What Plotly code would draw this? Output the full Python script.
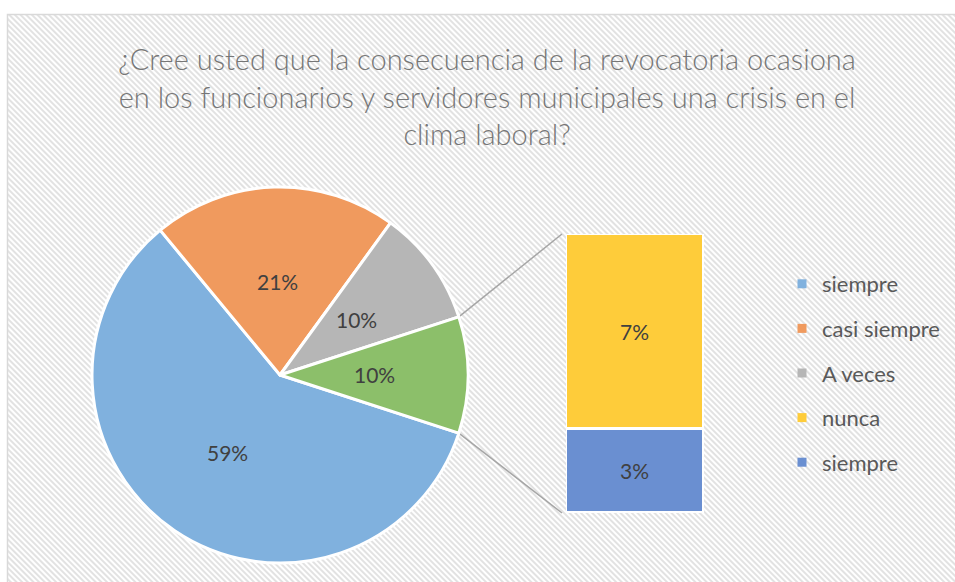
import base64
import math
import plotly.graph_objects as go

# ---------------- data ----------------
pie_labels = ["siempre", "casi siempre", "A veces", "Otro"]
pie_values = [59, 21, 10, 10]
bar_labels = ["siempre", "nunca"]          # bottom -> top of the stacked bar
bar_values = [3, 7]
legend_labels = ["siempre", "casi siempre", "A veces", "nunca", "siempre"]
title_lines = [
    "¿Cree usted que la consecuencia de la revocatoria ocasiona",
    "en los funcionarios y servidores municipales una crisis en el",
    "clima laboral?",
]

# ---------------- style ----------------
W, H = 955, 582
pie_colors = ["#80b1de", "#f09a5e", "#b6b6b6", "#8cbf6a"]
bar_colors = ["#6a8fd1", "#fecc3a"]
legend_colors = ["#80b1de", "#f09a5e", "#b6b6b6", "#fecc3a", "#6a8fd1"]
FONT = "Lato"
LABEL_FONT = dict(family=FONT, size=21, color="#404040")

# layout geometry (pixels)
cx, cy, R = 280, 375, 188
bar_x0, bar_x1, bar_y0, bar_y1 = 566, 704, 513, 234   # left, right, bottom, top

fig = go.Figure()

total = sum(pie_values)
other_frac = pie_values[-1] / total
rotation = 90 + other_frac * 360 / 2

fig.add_trace(go.Pie(
    labels=pie_labels, values=pie_values, sort=False, direction="clockwise",
    rotation=rotation,
    domain=dict(x=[(cx - R) / W, (cx + R) / W], y=[1 - (cy + R) / H, 1 - (cy - R) / H]),
    marker=dict(colors=pie_colors, line=dict(color="white", width=3)),
    textinfo="none",
    showlegend=False, hoverinfo="label+percent",
))

# pie percentage labels at half radius on each slice's mid-angle
annotations = []
start = rotation  # clockwise degrees from 12 o'clock
for v in pie_values:
    span = v / total * 360
    mid = math.radians(start + span / 2)
    lx = cx + 0.5 * R * math.sin(mid)
    ly = cy - 0.5 * R * math.cos(mid)
    annotations.append(dict(text=f"{round(v / total * 100)}%", x=lx / W, y=1 - ly / H,
                            xref="paper", yref="paper", showarrow=False,
                            xanchor="center", yanchor="middle",
                            font=LABEL_FONT))
    start += span

for lab, val, col in zip(bar_labels, bar_values, bar_colors):
    fig.add_trace(go.Bar(
        x=["Otro"], y=[val], name=lab, width=1,
        marker=dict(color=col, line=dict(color="white", width=3)),
        text=[f"{val}%"], textposition="inside", insidetextanchor="middle",
        textfont=LABEL_FONT, textangle=0,
        showlegend=False, hoverinfo="name+y",
    ))

for i, (lab, col) in enumerate(zip(legend_labels, legend_colors)):
    fig.add_trace(go.Scatter(
        x=[None], y=[None], mode="markers", name=lab,
        marker=dict(symbol="square", size=9, color=col),
        legendgroup=f"g{i}", showlegend=True, hoverinfo="skip",
    ))

# connector lines from the "Otro" slice edge to the bar corners
half = math.radians(other_frac * 360 / 2)
px0 = cx + R * math.cos(half)
shapes = []
for sign, by in ((1, bar_y1), (-1, bar_y0)):
    py = cy - sign * R * math.sin(half)
    shapes.append(dict(type="line", xref="paper", yref="paper",
                       x0=px0 / W, y0=1 - py / H, x1=(bar_x0 - 4) / W, y1=1 - by / H,
                       line=dict(color="#a6a6a6", width=1.5), layer="below"))
# chart border
shapes.append(dict(type="rect", xref="paper", yref="paper",
                   x0=7.5 / W, y0=-0.02, x1=1.02, y1=1 - 14.5 / H,
                   line=dict(color="#d9d9d9", width=1.5), fillcolor="rgba(0,0,0,0)",
                   layer="below"))

# hatched background
bw, bh = W - 8, H - 15
svg = (f'<svg xmlns="http://www.w3.org/2000/svg" width="{bw}" height="{bh}">'
       '<defs><pattern id="p" patternUnits="userSpaceOnUse" width="4" height="4" '
       'patternTransform="rotate(-45)"><rect width="4" height="4" fill="#ffffff"/>'
       '<rect width="2" height="4" fill="#e2e2e2"/></pattern></defs>'
       '<rect width="100%" height="100%" fill="url(#p)"/></svg>')
src = "data:image/svg+xml;base64," + base64.b64encode(svg.encode()).decode()

fig.update_layout(
    width=W, height=H,
    margin=dict(l=0, r=0, t=0, b=0),
    paper_bgcolor="white", plot_bgcolor="rgba(0,0,0,0)",
    barmode="stack", bargap=0,
    title=dict(text="<br>".join(title_lines), x=0.51, xanchor="center",
               y=1 - 70 / H, yanchor="top", yref="container",
               font=dict(family=FONT, size=29, color="#767676", weight=300)),
    xaxis=dict(domain=[bar_x0 / W, bar_x1 / W], range=[-0.5, 0.5], visible=False,
               fixedrange=True),
    yaxis=dict(domain=[1 - bar_y0 / H, 1 - bar_y1 / H], range=[0, sum(bar_values)],
               visible=False, fixedrange=True),
    legend=dict(x=782 / W, y=1 - 263 / H, xanchor="left", yanchor="top",
                font=dict(family=FONT, size=22, color="#595959"),
                bgcolor="rgba(0,0,0,0)", tracegroupgap=13, traceorder="grouped"),
    images=[dict(source=src, xref="paper", yref="paper", x=8 / W, y=1 - 15 / H,
                 sizex=bw / W, sizey=bh / H, xanchor="left", yanchor="top",
                 sizing="stretch", layer="below")],
    shapes=shapes,
    annotations=annotations,
)

fig.write_html("out.html", config={"displayModeBar": False},
               post_script="document.body.style.margin='0px';")
